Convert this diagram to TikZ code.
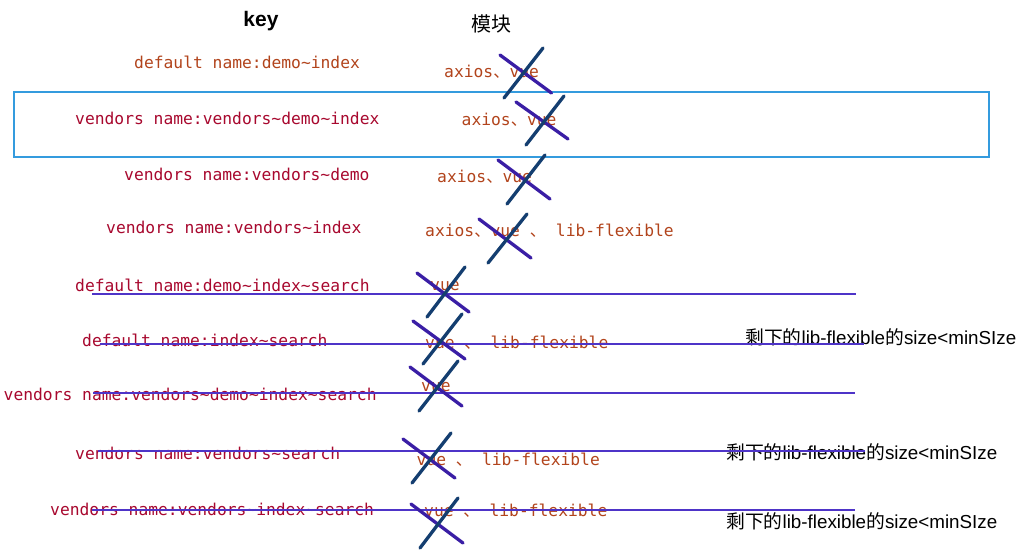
\documentclass[tikz,border=0pt]{standalone}
\usepackage{fontspec}
\setmainfont{Liberation Sans}
\setmonofont{DejaVu Sans Mono}
\newfontfamily\cjk{Noto Sans CJK SC}
\definecolor{keyred}{RGB}{168,8,46}
\definecolor{modorange}{RGB}{178,68,28}
\definecolor{crosspurple}{RGB}{58,30,165}
\definecolor{crossnavy}{RGB}{20,62,112}
\definecolor{strike}{RGB}{78,52,200}
\definecolor{boxblue}{RGB}{52,155,222}
\newcommand\sepmark{{\cjk 、}}
\newcommand\tl{\textasciitilde}
\begin{document}
\begin{tikzpicture}[x=1pt,y=-1pt,
  keytxt/.style={anchor=base west, inner sep=0pt, font=\fontsize{16.3}{18}\selectfont\ttfamily, text=keyred},
  keyorange/.style={keytxt, text=modorange},
  modtxt/.style={anchor=base west, inner sep=0pt, font=\fontsize{16.3}{18}\selectfont\ttfamily, text=modorange},
  notetxt/.style={anchor=base west, inner sep=0pt, font=\fontsize{18.8}{22}\selectfont, text=black},
  strikeline/.style={draw=strike, line width=2pt},
  xpurple/.style={draw=crosspurple, line width=3.3pt, line cap=round},
  xnavy/.style={draw=crossnavy, line width=3.3pt, line cap=round},
  framebox/.style={draw=boxblue, line width=2pt}
]
\useasboundingbox (0,0) rectangle (1024,550);
\fill[white] (0,0) rectangle (1024,550);

% headers
\node[inner sep=0pt, font=\fontsize{21}{24}\selectfont\bfseries] (key) at (261,21) {key};
\node[inner sep=0pt, font=\cjk\fontsize{20}{24}\selectfont] (mk) at (491,24) {模块};

% frame
\draw[framebox] (14,92) rectangle (988.5,156.5);

% key column
\node[keyorange] (k1) at (134,68) {default name:demo\tl index};
\node[keytxt] (k2) at (75,124) {vendors name:vendors\tl demo\tl index};
\node[keytxt] (k3) at (124,180) {vendors name:vendors\tl demo};
\node[keytxt] (k4) at (106,233) {vendors name:vendors\tl index};
\node[keytxt] (k5) at (75,291.5) {default name:demo\tl index\tl search};
\node[keytxt] (k6) at (82,346) {default name:index\tl search};
\node[keytxt] (k7) at (3.5,400) {vendors name:vendors\tl demo\tl index\tl search};
\node[keytxt] (k8) at (75,459) {vendors name:vendors\tl search};
\node[keytxt] (k9) at (50,515) {vendors name:vendors\tl index\tl search};

% module column
\node[modtxt] (m1) at (444,77) {axios\sepmark vue};
\node[modtxt] (m2) at (461.5,125) {axios\sepmark vue};
\node[modtxt] (m3) at (437,182.5) {axios\sepmark vue};
\node[modtxt] (m4) at (425,236) {axios\sepmark vue \sepmark{} lib-flexible};
\node[modtxt] (m5) at (430,290.5) {vue};
\node[modtxt] (m6) at (425,348) {vue \sepmark{} lib-flexible};
\node[modtxt] (m7) at (421,391) {vue};
\node[modtxt] (m8) at (416.5,465) {vue \sepmark{} lib-flexible};
\node[modtxt] (m9) at (424,516) {vue \sepmark{} lib-flexible};

% notes
\node[notetxt] (r6) at (745,344) {{\cjk 剩下的}lib-flexible{\cjk 的}size<minSIze};
\node[notetxt] (r8) at (726,459) {{\cjk 剩下的}lib-flexible{\cjk 的}size<minSIze};
\node[notetxt] (r9) at (726,528) {{\cjk 剩下的}lib-flexible{\cjk 的}size<minSIze};

% strike lines
\draw[strikeline] (92,293.5) -- (856,293.5);
\draw[strikeline] (100,344) -- (864,344);
\draw[strikeline] (93,393) -- (855,393);
\draw[strikeline] (98,451) -- (865,451);
\draw[strikeline] (92,509.5) -- (855,509.5);

% crosses
\draw[xpurple] (500,55) -- (551.5,93);
\draw[xnavy] (543,48) -- (504,98);
\draw[xpurple] (516,102) -- (568,139);
\draw[xnavy] (564,96) -- (526,145);
\draw[xpurple] (498,160) -- (550,199);
\draw[xnavy] (545,155) -- (507,204);
\draw[xpurple] (479,219) -- (531,258);
\draw[xnavy] (527,214) -- (488,263);
\draw[xpurple] (417,273) -- (469,312);
\draw[xnavy] (465,267) -- (427,317);
\draw[xpurple] (413,321) -- (465,359);
\draw[xnavy] (462,314) -- (423,364);
\draw[xpurple] (410,367) -- (462,406);
\draw[xnavy] (458,361) -- (419,411);
\draw[xpurple] (403,439) -- (455,478);
\draw[xnavy] (451,433) -- (412,483);
\draw[xpurple] (411,504) -- (463,543);
\draw[xnavy] (458,498) -- (420,548);
\end{tikzpicture}
\end{document}
